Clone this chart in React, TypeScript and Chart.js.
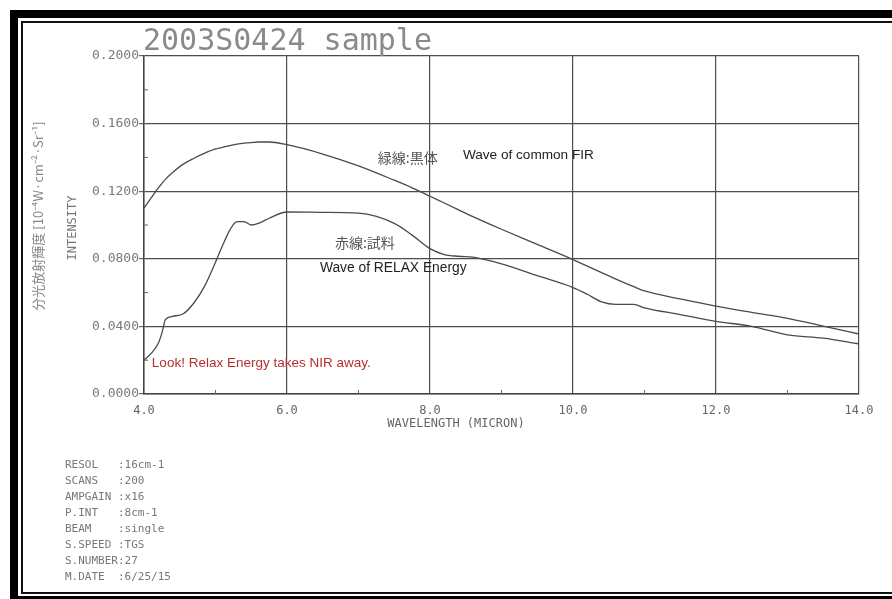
import React, { useEffect, useRef } from "react";
import { Chart, registerables } from "chart.js";

Chart.register(...registerables);

// ---- data ----
const wavelengths = [4.0, 4.1, 4.2, 4.25, 4.3, 4.4, 4.55, 4.7, 4.85, 5.0, 5.1, 5.2, 5.3, 5.4, 5.5, 5.6, 5.75, 6.0, 6.5, 7.0, 7.5, 7.75, 8.0, 8.2, 8.4, 8.6, 9.0, 9.5, 10.0, 10.2, 10.4, 10.6, 10.85, 11.0, 11.5, 12.0, 12.5, 13.0, 13.5, 14.0];
const commonFIR = [0.110, 0.116, 0.122, 0.1245, 0.127, 0.131, 0.136, 0.1395, 0.1425, 0.145, 0.146, 0.147, 0.1478, 0.1484, 0.1488, 0.1491, 0.1491, 0.1475, 0.142, 0.135, 0.1265, 0.122, 0.117, 0.113, 0.109, 0.105, 0.0975, 0.0885, 0.0795, 0.0757, 0.0718, 0.068, 0.0635, 0.061, 0.0563, 0.052, 0.0483, 0.0448, 0.0402, 0.0355];
const relaxEnergy = [0.020, 0.024, 0.030, 0.036, 0.044, 0.046, 0.0475, 0.054, 0.064, 0.078, 0.088, 0.097, 0.102, 0.102, 0.100, 0.101, 0.104, 0.1077, 0.1075, 0.107, 0.101, 0.094, 0.086, 0.0825, 0.0815, 0.081, 0.077, 0.070, 0.063, 0.059, 0.0545, 0.053, 0.053, 0.051, 0.047, 0.043, 0.040, 0.035, 0.033, 0.0296];

const xTickValues = [4, 6, 8, 10, 12, 14];
const yTickValues = [0, 0.04, 0.08, 0.12, 0.16, 0.2];
const xMinorTicks = [5, 7, 9, 11, 13];
const yMinorTicks = [0.02, 0.06, 0.1, 0.14, 0.18];

const titleText = "2003S0424 sample";
const xAxisTitle = "WAVELENGTH (MICRON)";
const yAxisTitle = "INTENSITY";
const yAxisTitleJa = "分光放射輝度 [10⁻⁴W·cm⁻²·Sr⁻¹]";
const infoLines = [
  "RESOL   :16cm-1",
  "SCANS   :200",
  "AMPGAIN :x16",
  "P.INT   :8cm-1",
  "BEAM    :single",
  "S.SPEED :TGS",
  "S.NUMBER:27",
  "M.DATE  :6/25/15",
];
const annotations = [
  { text: "緑線:黒体", x: 7.27, y: 0.1396, color: "#555", font: '14px "Noto Sans CJK JP"' },
  { text: "Wave of common FIR", x: 8.46, y: 0.1414, color: "#222", font: '13.6px "Liberation Sans"' },
  { text: "赤線:試料", x: 6.67, y: 0.0893, color: "#555", font: '14px "Noto Sans CJK JP"' },
  { text: "Wave of RELAX Energy", x: 6.46, y: 0.0746, color: "#222", font: '13.8px "Liberation Sans"' },
  { text: "Look! Relax Energy takes NIR away.", x: 4.11, y: 0.0183, color: "#b5302f", font: '13.5px "Liberation Sans"' },
];

const MONO = '"DejaVu Sans Mono"';

const decorPlugin = {
  id: "decor",
  afterDraw(chart: any) {
    const ctx = chart.ctx;
    const xs = chart.scales.x;
    const ys = chart.scales.y;
    const area = chart.chartArea;
    ctx.save();
    // minor ticks (inside)
    ctx.strokeStyle = "#666";
    ctx.lineWidth = 1;
    xMinorTicks.forEach((v) => {
      const px = xs.getPixelForValue(v);
      ctx.beginPath();
      ctx.moveTo(px, area.bottom);
      ctx.lineTo(px, area.bottom - 4);
      ctx.stroke();
    });
    yMinorTicks.forEach((v) => {
      const py = ys.getPixelForValue(v);
      ctx.beginPath();
      ctx.moveTo(area.left, py);
      ctx.lineTo(area.left + 4, py);
      ctx.stroke();
    });

    // title
    ctx.fillStyle = "#8a8a8a";
    ctx.font = `30px ${MONO}`;
    ctx.textBaseline = "alphabetic";
    ctx.textAlign = "left";
    ctx.fillText(titleText, 143, 50);

    // annotations
    annotations.forEach((a) => {
      ctx.font = a.font;
      ctx.fillStyle = a.color;
      ctx.textAlign = "left";
      ctx.textBaseline = "middle";
      ctx.fillText(a.text, xs.getPixelForValue(a.x), ys.getPixelForValue(a.y));
    });

    // x axis title
    ctx.font = `12px ${MONO}`;
    ctx.fillStyle = "#666";
    ctx.textAlign = "center";
    ctx.textBaseline = "middle";
    ctx.fillText(xAxisTitle, 456, 424);

    // y axis titles
    ctx.save();
    ctx.translate(73, 228);
    ctx.rotate(-Math.PI / 2);
    ctx.font = `12px ${MONO}`;
    ctx.fillStyle = "#777";
    ctx.fillText(yAxisTitle, 0, 0);
    ctx.restore();

    ctx.save();
    ctx.translate(38, 216);
    ctx.rotate(-Math.PI / 2);
    ctx.font = '13px "Noto Sans CJK JP"';
    ctx.fillStyle = "#888";
    ctx.textAlign = "center";
    ctx.textBaseline = "middle";
    ctx.fillText(yAxisTitleJa, 0, 0);
    ctx.restore();

    // info block
    ctx.font = `11px ${MONO}`;
    ctx.fillStyle = "#777";
    ctx.textAlign = "left";
    ctx.textBaseline = "middle";
    infoLines.forEach((line, i) => {
      ctx.fillText(line, 65, 465 + i * 16);
    });
    ctx.restore();
  },
};

export default function App() {
  const canvasRef = useRef<HTMLCanvasElement | null>(null);

  useEffect(() => {
    if (!canvasRef.current) return;
    const chart = new Chart(canvasRef.current, {
      type: "line",
      data: {
        datasets: [
          {
            label: "Wave of common FIR",
            data: wavelengths.map((x, i) => ({ x, y: commonFIR[i] })),
            borderColor: "#4a4a4a",
            borderWidth: 1.3,
            pointRadius: 0,
            cubicInterpolationMode: "monotone",
            fill: false,
          },
          {
            label: "Wave of RELAX Energy",
            data: wavelengths.map((x, i) => ({ x, y: relaxEnergy[i] })),
            borderColor: "#4a4a4a",
            borderWidth: 1.3,
            pointRadius: 0,
            cubicInterpolationMode: "monotone",
            fill: false,
          },
        ],
      },
      options: {
        responsive: false,
        animation: false,
        layout: { padding: { left: 44, right: 33, top: 56, bottom: 175 } },
        plugins: { legend: { display: false }, tooltip: { enabled: false } },
        scales: {
          x: {
            type: "linear",
            min: 4,
            max: 14,
            afterBuildTicks: (scale: any) => {
              scale.ticks = xTickValues.map((v) => ({ value: v }));
            },
            afterFit: (scale: any) => {
              scale.height = 30;
            },
            ticks: {
              callback: (v: any) => Number(v).toFixed(1),
              font: { family: "DejaVu Sans Mono", size: 12 },
              color: "#666",
              padding: 2,
              maxRotation: 0,
            },
            grid: { color: "#4d4d4d", lineWidth: 1.2, tickLength: 8, tickColor: "rgba(0,0,0,0)" },
            border: { color: "#444", width: 1.5 },
          },
          y: {
            min: 0,
            max: 0.2,
            afterBuildTicks: (scale: any) => {
              scale.ticks = yTickValues.map((v) => ({ value: v }));
            },
            afterFit: (scale: any) => {
              scale.width = 100;
            },
            ticks: {
              callback: (v: any) => Number(v).toFixed(4),
              font: { family: "DejaVu Sans Mono", size: 13 },
              color: "#7a7a7a",
              padding: 0,
            },
            grid: { color: "#4d4d4d", lineWidth: 1.2, tickLength: 5, tickColor: "#666" },
            border: { color: "#444", width: 1.5 },
          },
        },
      },
      plugins: [decorPlugin],
    } as any);
    return () => chart.destroy();
  }, []);

  return (
    <div style={{ position: "fixed", left: 0, top: 0, width: 892, height: 599, background: "#fff", overflow: "hidden" }}>
      {/* scanned frame */}
      <div style={{ position: "absolute", left: 10, top: 10, right: 0, height: 8, background: "#000" }} />
      <div style={{ position: "absolute", left: 10, top: 10, width: 8, bottom: 0, background: "#000" }} />
      <div style={{ position: "absolute", left: 10, bottom: 0, right: 0, height: 3, background: "#000" }} />
      <div style={{ position: "absolute", left: 21, top: 21, right: 0, height: 2, background: "#111" }} />
      <div style={{ position: "absolute", left: 21, top: 21, width: 2, bottom: 5, background: "#111" }} />
      <div style={{ position: "absolute", left: 21, bottom: 5, right: 0, height: 2, background: "#111" }} />
      <canvas ref={canvasRef} width={892} height={599} style={{ position: "absolute", left: 0, top: 0, width: 892, height: 599 }} />
    </div>
  );
}
